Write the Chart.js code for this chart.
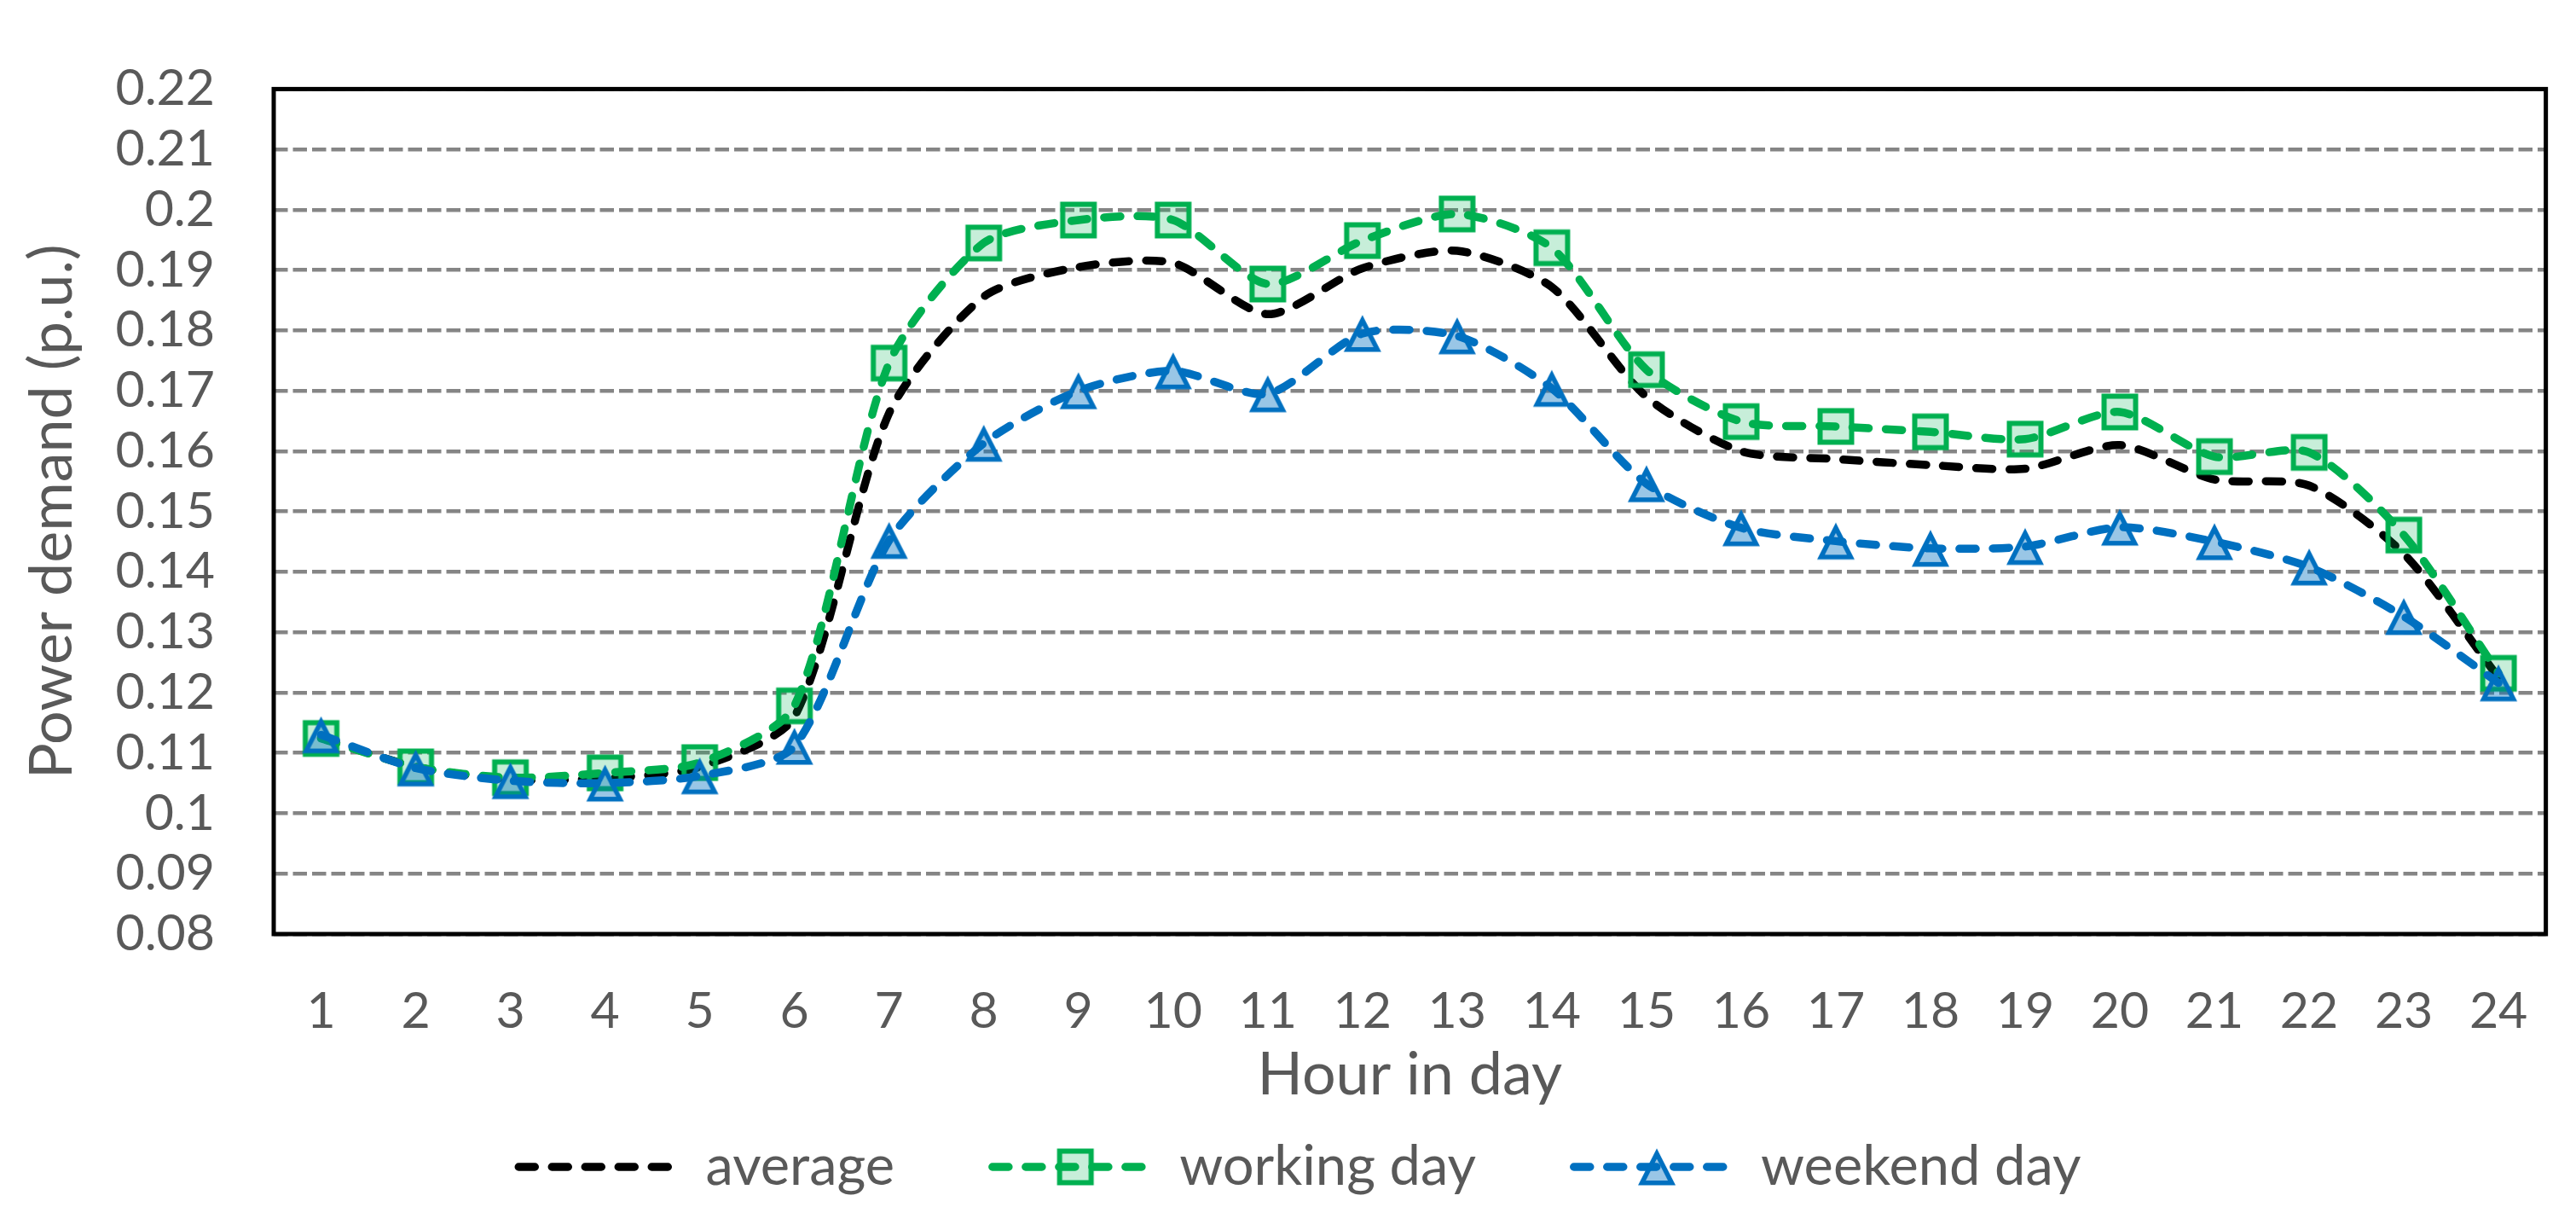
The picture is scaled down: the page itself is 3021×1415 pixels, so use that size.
<!DOCTYPE html>
<html lang="en">
<head>
  <meta charset="UTF-8" />
  <title>Power demand by hour</title>
  <script src="https://cdn.jsdelivr.net/npm/chart.js"></script>
  <style>
    html, body { margin: 0; padding: 0; background: #fff; }
    canvas { display: block; }
  </style>
</head>
<body>
  <canvas id="chart" width="3021" height="1415"></canvas>

  <script>
    // data
    const hours = ['1','2','3','4','5','6','7','8','9','10','11','12',
                   '13','14','15','16','17','18','19','20','21','22','23','24'];
    const averageDemand = [0.1125, 0.1077, 0.1056, 0.1058, 0.1077, 0.1160, 0.1663, 0.1856,
                           0.1905, 0.1912, 0.1827, 0.1903, 0.1932, 0.1872, 0.1690, 0.1600,
                           0.1587, 0.1577, 0.1571, 0.1610, 0.1553, 0.1543, 0.1430, 0.1225];
    const workingDayDemand = [0.1124, 0.1077, 0.1059, 0.1067, 0.1084, 0.1178, 0.1746, 0.1945,
                              0.1983, 0.1983, 0.1877, 0.1949, 0.1993, 0.1937, 0.1735, 0.1649,
                              0.1641, 0.1632, 0.1620, 0.1665, 0.1591, 0.1598, 0.1461, 0.1232];
    const weekendDayDemand = [0.1130, 0.1075, 0.1054, 0.1050, 0.1062, 0.1111, 0.1452, 0.1613,
                              0.1700, 0.1733, 0.1695, 0.1795, 0.1791, 0.1704, 0.1546, 0.1473,
                              0.1451, 0.1439, 0.1442, 0.1474, 0.1450, 0.1408, 0.1326, 0.1216];
    const yMin = 0.08, yMax = 0.22, yStep = 0.01;
    const seriesNames = ['average', 'working day', 'weekend day'];

    const GREEN = '#00B050', BLUE = '#0070C0', TEXT = '#595959';
    const FONT = 'Lato';
    const LINE_W = 9.5, DASH = [19, 20];

    // marker images
    function squareMarker() {
      const c = document.createElement('canvas');
      c.width = 46; c.height = 46;
      const g = c.getContext('2d');
      g.lineWidth = 6; g.lineJoin = 'miter';
      g.fillStyle = 'rgba(0,176,80,0.22)';
      g.strokeStyle = GREEN;
      g.beginPath(); g.rect(4.5, 4.5, 37, 37);
      g.fill(); g.stroke();
      return c;
    }
    function triangleMarker() {
      const c = document.createElement('canvas');
      c.width = 48; c.height = 48;
      const g = c.getContext('2d');
      g.lineWidth = 5.5; g.lineJoin = 'miter';
      g.fillStyle = 'rgba(0,112,192,0.4)';
      g.strokeStyle = BLUE;
      g.beginPath();
      g.moveTo(24, 8.4); g.lineTo(41.5, 42.75); g.lineTo(6.5, 42.75); g.closePath();
      g.fill(); g.stroke();
      return c;
    }
    const sq = squareMarker();
    const tri = triangleMarker();

    // frame round the plot area
    const framePlugin = {
      id: 'frame',
      afterDatasetsDraw(chart) {
        const a = chart.chartArea, ctx = chart.ctx;
        ctx.save();
        ctx.strokeStyle = '#000';
        ctx.lineWidth = 5;
        ctx.strokeRect(a.left, a.top, a.right - a.left, a.bottom - a.top);
        ctx.restore();
      }
    };

    // legend at the bottom: dashed line + marker + name
    const legendPlugin = {
      id: 'bottomLegend',
      afterDraw(chart) {
        const ctx = chart.ctx;
        const items = [
          { name: seriesNames[0], color: '#000', marker: null },
          { name: seriesNames[1], color: GREEN, marker: sq },
          { name: seriesNames[2], color: BLUE, marker: tri }
        ];
        const lineLen = 204, gapText = 20, gapItem = 110;
        const yLine = 1368, yBase = 1389;
        ctx.save();
        ctx.font = '65px ' + FONT;
        let total = 0;
        items.forEach((it, i) => {
          it.w = ctx.measureText(it.name).width;
          total += lineLen + gapText + it.w + (i < items.length - 1 ? gapItem : 0);
        });
        let x = 1522 - total / 2;
        items.forEach(it => {
          ctx.strokeStyle = it.color;
          ctx.lineWidth = LINE_W;
          ctx.lineCap = 'round';
          ctx.setLineDash(DASH);
          ctx.beginPath();
          ctx.moveTo(x + LINE_W / 2, yLine);
          ctx.lineTo(x + lineLen - LINE_W / 2, yLine);
          ctx.stroke();
          ctx.setLineDash([]);
          if (it.marker) {
            ctx.drawImage(it.marker, x + lineLen / 2 - it.marker.width / 2, yLine - it.marker.height / 2);
          }
          ctx.fillStyle = TEXT;
          ctx.textBaseline = 'alphabetic';
          ctx.textAlign = 'left';
          ctx.fillText(it.name, x + lineLen + gapText, yBase);
          x += lineLen + gapText + it.w + gapItem;
        });
        ctx.restore();
      }
    };

    function lineSet(label, data, color, marker, order) {
      return {
        label: label,
        data: data,
        borderColor: color,
        borderWidth: LINE_W,
        borderDash: DASH,
        borderCapStyle: 'round',
        borderJoinStyle: 'round',
        fill: false,
        tension: 0.25,
        pointStyle: marker || 'circle',
        pointRadius: marker ? 22 : 0,
        pointHoverRadius: marker ? 22 : 0,
        order: order
      };
    }

    document.fonts.load('60px ' + FONT).finally(() => {
      new Chart(document.getElementById('chart'), {
        type: 'line',
        data: {
          labels: hours,
          datasets: [
            lineSet(seriesNames[0], averageDemand, '#000', null, 3),
            lineSet(seriesNames[1], workingDayDemand, GREEN, sq, 2),
            lineSet(seriesNames[2], weekendDayDemand, BLUE, tri, 1)
          ]
        },
        options: {
          responsive: false,
          devicePixelRatio: 1,
          animation: false,
          events: [],
          layout: { padding: { left: 0, right: 17, top: 47, bottom: 110 } },
          plugins: { legend: { display: false }, tooltip: { enabled: false } },
          scales: {
            x: {
              offset: true,
              grid: { display: false, drawTicks: false },
              border: { display: false },
              ticks: { color: TEXT, font: { family: FONT, size: 59 }, padding: 56, maxRotation: 0, autoSkip: false },
              title: { display: true, text: 'Hour in day', color: TEXT,
                       font: { family: FONT, size: 70 }, padding: { top: 0, bottom: 3 } },
              afterFit: s => { s.height = 210; }
            },
            y: {
              min: yMin,
              max: yMax,
              grid: { color: '#858585', lineWidth: 4.5, drawTicks: false },
              border: { display: false, dash: [16.5, 6] },
              ticks: {
                stepSize: yStep,
                autoSkip: false,
                color: TEXT,
                font: { family: FONT, size: 59 },
                padding: 69,
                callback: v => String(Number(v.toFixed(2)))
              },
              title: { display: true, text: 'Power demand (p.u.)', color: TEXT,
                       font: { family: FONT, size: 70 }, padding: { top: 19, bottom: 0 } },
              afterFit: s => { s.width = 321; }
            }
          }
        },
        plugins: [framePlugin, legendPlugin]
      });
    });
  </script>
</body>
</html>
